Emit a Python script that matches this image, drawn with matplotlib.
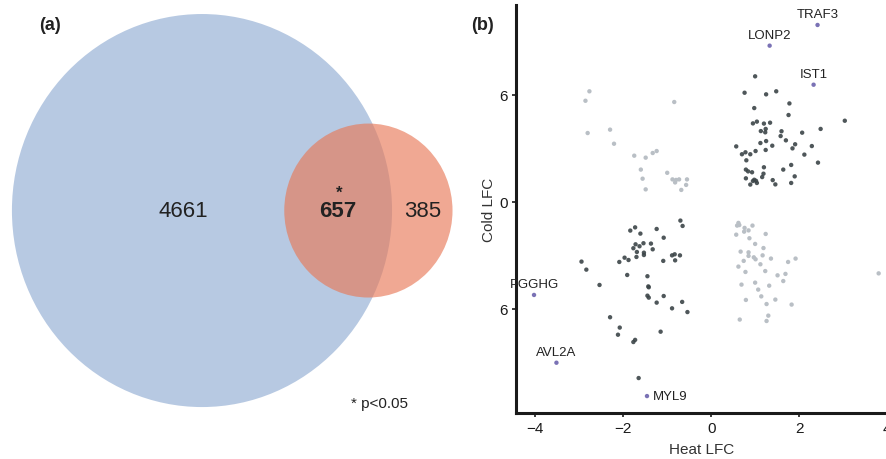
import numpy as np
import matplotlib
matplotlib.use("Agg")
import matplotlib.pyplot as plt
from matplotlib.patches import Ellipse

plt.rcParams['font.family'] = ['Liberation Sans', 'DejaVu Sans']

# ---------------- data ----------------
# Venn counts
heat_only = 4661
both = 657
cold_only = 385

# Scatter: significant in both (dark)
ur_x = [1.00, 0.76, 1.25, 1.48, 1.78, 0.98, 1.76, 0.95, 1.04, 1.20, 1.34, 3.04, 2.49, 1.13,
        1.24, 1.23, 1.60, 2.07, 1.58, 1.70, 1.12, 1.25, 1.39, 1.91, 1.85, 2.29, 0.57, 1.01,
        1.24, 0.70, 0.78, 0.89, 0.80, 2.12, 2.43, 1.82, 1.20, 0.79, 0.93, 0.84, 1.19, 1.64,
        1.90, 0.79, 0.98, 0.95, 1.02, 1.16, 1.40, 0.89, 1.04, 1.46, 1.82]
ur_y = [7.03, 6.11, 6.02, 6.19, 5.51, 5.25, 4.86, 4.39, 4.49, 4.38, 4.43, 4.54, 4.08, 3.96,
        4.08, 3.89, 3.95, 3.87, 3.68, 3.44, 3.29, 3.40, 3.14, 3.22, 2.99, 3.12, 3.10, 2.84,
        2.90, 2.66, 2.77, 2.66, 2.32, 2.64, 2.19, 2.06, 1.93, 1.80, 1.65, 1.70, 1.57, 1.80,
        1.42, 1.31, 1.23, 1.16, 1.17, 1.38, 1.21, 0.96, 1.05, 0.97, 1.05]
ll_x = [-0.70, -0.65, -1.73, -1.84, -1.24, -1.61, -1.08, -1.72, -1.54, -1.37, -1.63, -1.77,
        -1.33, -1.69, -1.53, -1.53, -1.70, -1.97, -1.88, -2.09, -0.89, -0.83, -0.71, -0.82,
        -1.09, -2.95, -2.84, -1.91, -1.45, -2.54, -1.43, -1.42, -1.45, -1.42, -1.08, -1.24,
        -0.66, -0.89, -0.54, -2.30, -2.08, -2.12, -1.15, -1.73, -1.77, -1.65]
ll_y = [-1.06, -1.36, -1.44, -1.62, -1.53, -1.79, -2.02, -2.39, -2.33, -2.35, -2.50, -2.61,
        -2.67, -2.82, -2.86, -2.99, -3.10, -3.14, -3.27, -3.38, -3.01, -2.95, -3.01, -3.29,
        -3.32, -3.36, -3.81, -4.11, -4.18, -4.67, -4.75, -4.80, -5.27, -5.38, -5.29, -5.66,
        -5.62, -5.98, -6.19, -6.48, -7.06, -7.46, -7.29, -7.75, -7.87, -9.89]

# Scatter: discordant (light grey)
ul_x = [-2.77, -2.86, -0.84, -2.81, -2.30, -2.21, -1.75, -1.49, -1.33, -1.24, -1.60, -1.56,
        -1.49, -1.00, -0.88, -0.82, -0.73, -0.55, -0.68, -0.57, -0.80]
ul_y = [6.19, 5.66, 5.59, 3.85, 4.04, 3.25, 2.58, 2.47, 2.73, 2.84, 1.80, 1.29,
        0.69, 1.62, 1.25, 1.08, 1.25, 1.25, 0.66, 0.94, 1.22]
lr_x = [0.62, 0.64, 0.59, 0.76, 0.94, 0.85, 0.75, 0.57, 1.24, 0.87, 1.00, 1.19, 0.67, 0.85,
        0.85, 0.97, 1.01, 1.17, 1.36, 0.74, 0.62, 1.12, 1.75, 1.92, 1.23, 0.78, 1.51, 1.69,
        1.64, 3.81, 0.69, 1.00, 1.32, 1.07, 1.14, 0.79, 1.46, 1.26, 1.83, 0.65, 1.30, 1.26]
lr_y = [-1.19, -1.31, -1.34, -1.47, -1.34, -1.61, -1.68, -1.85, -1.81, -2.05, -2.37, -2.60,
        -2.80, -2.84, -3.04, -3.12, -3.23, -3.01, -3.19, -3.32, -3.64, -3.51, -3.38, -3.19,
        -3.89, -3.94, -4.13, -4.05, -4.45, -4.02, -4.65, -4.54, -4.71, -4.93, -5.31, -5.51,
        -5.49, -5.74, -5.77, -6.61, -6.39, -6.69]

# Highlighted genes
gene_names = ['TRAF3', 'LONP2', 'IST1', 'PGGHG', 'AVL2A', 'MYL9']
gene_x = [2.42, 1.33, 2.33, -4.03, -3.52, -1.46]
gene_y = [9.91, 8.75, 6.56, -5.23, -9.03, -10.90]

x_ticks = [-4, -2, 0, 2, 4]
y_ticks = [6, 0, -6]
y_ticklabels = ['6', '0', '6']

# ---------------- figure ----------------
fig = plt.figure(figsize=(8.87, 4.6), dpi=100)

# ---- (a) Venn ----
axv = fig.add_axes([0, 0, 460 / 887, 1])
axv.set_axis_off()
r_heat = np.sqrt(heat_only + both)
r_cold = np.sqrt(cold_only + both)
target = np.pi * both


def lens(d, r1, r2):
    a1 = np.arccos(np.clip((d * d + r1 * r1 - r2 * r2) / (2 * d * r1), -1, 1))
    a2 = np.arccos(np.clip((d * d + r2 * r2 - r1 * r1) / (2 * d * r2), -1, 1))
    k = (-d + r1 + r2) * (d + r1 - r2) * (d - r1 + r2) * (d + r1 + r2)
    return r1 * r1 * a1 + r2 * r2 * a2 - 0.5 * np.sqrt(max(k, 0))


lo, hi = r_heat - r_cold + 1e-6, r_heat + r_cold - 1e-6
for _ in range(80):
    mid = 0.5 * (lo + hi)
    if lens(mid, r_heat, r_cold) > target:
        lo = mid
    else:
        hi = mid
d = 0.5 * (lo + hi)

axv.add_patch(Ellipse((0, 0), 2 * r_heat, 2 * r_heat, facecolor='#b7c9e2', edgecolor='none'))
axv.add_patch(Ellipse((d, 0), 2 * r_cold, 2 * r_cold, facecolor=(232/255, 120/255, 86/255),
                      alpha=0.64, edgecolor='none'))
axv.set_xlim(-77.5, 99.0)
axv.set_ylim(-92.2, 78.5)

left_edge = d - r_cold
axv.text(-7.3, 0, f'{heat_only}', ha='center', va='center', fontsize=16, color='#222222')
axv.text((left_edge + r_heat) / 2, 0, f'{both}', ha='center', va='center', fontsize=16,
         fontweight='bold', color='#222222')
axv.text((left_edge + r_heat) / 2 + 0.3, 6.6, '*', ha='center', va='center', fontsize=12,
         fontweight='bold', color='#222222')
axv.text((r_heat + d + r_cold) / 2, 0, f'{cold_only}', ha='center', va='center',
         fontsize=16, color='#222222')
fig.text(380 / 887, 1 - 404 / 460, '* p<0.05', ha='center', va='center', fontsize=11,
         color='#222222')
fig.text(50 / 887, 1 - 25 / 460, '(a)', ha='center', va='center', fontsize=13,
         fontweight='bold', color='#222222')
fig.text(483 / 887, 1 - 25 / 460, '(b)', ha='center', va='center', fontsize=13,
         fontweight='bold', color='#222222')

# ---- (b) scatter ----
ax = fig.add_axes([516 / 887, 46 / 460, 371 / 887, 408 / 460])
dark = '#3c4548'
light = '#b9bfc5'
ax.scatter(ul_x, ul_y, s=10, color=light, edgecolors='none', zorder=2)
ax.scatter(lr_x, lr_y, s=10, color=light, edgecolors='none', zorder=2)
ax.scatter(ur_x, ur_y, s=10, color=dark, alpha=0.9, edgecolors='none', zorder=3)
ax.scatter(ll_x, ll_y, s=10, color=dark, alpha=0.9, edgecolors='none', zorder=3)
ax.scatter(gene_x, gene_y, s=10, color='#7a72b5', edgecolors='none', zorder=4)
for name, gx, gy in zip(gene_names, gene_x, gene_y):
    if name == 'MYL9':
        ax.annotate(name, (gx, gy), xytext=(4, 0), textcoords='offset points',
                    ha='left', va='center', fontsize=9.5, color='#222222')
    else:
        ax.annotate(name, (gx, gy), xytext=(0, 3.5), textcoords='offset points',
                    ha='center', va='bottom', fontsize=9.5, color='#222222')

ax.set_xlim(-4.44, 4.0)
ax.set_ylim(-11.85, 11.03)
ax.set_xticks(x_ticks)
ax.set_yticks(y_ticks)
ax.set_yticklabels(y_ticklabels)
for s in ['top', 'right']:
    ax.spines[s].set_visible(False)
for s in ['left', 'bottom']:
    ax.spines[s].set_linewidth(2.2)
    ax.spines[s].set_color('#1a1a1a')
ax.tick_params(direction='out', length=3, width=1.2, labelsize=11, colors='#1a1a1a', pad=3)
ax.set_xlabel('Heat LFC', fontsize=11, color='#333333', labelpad=5)
ax.set_ylabel('Cold LFC', fontsize=11, color='#333333', labelpad=2)
ax.patch.set_alpha(0)

fig.savefig('out.png', dpi=100)
